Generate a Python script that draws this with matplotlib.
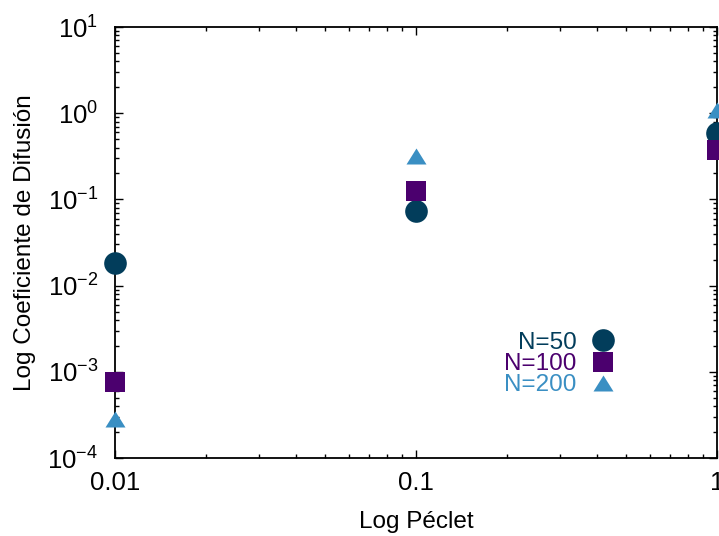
import matplotlib
matplotlib.use('Agg')
import matplotlib.pyplot as plt
from matplotlib.path import Path
from matplotlib.ticker import FixedLocator, FixedFormatter, LogLocator, NullFormatter

plt.rcParams['font.family'] = ['Liberation Sans', 'DejaVu Sans']
plt.rcParams['mathtext.fontset'] = 'custom'
plt.rcParams['mathtext.rm'] = 'Liberation Sans'
plt.rcParams['mathtext.it'] = 'Liberation Sans:italic'
plt.rcParams['mathtext.bf'] = 'Liberation Sans:bold'

# data
peclet = [0.01, 0.1, 1.0]
d_n50 = [0.0185, 0.0733, 0.59]
d_n100 = [7.6e-4, 0.124, 0.374]
d_n200 = [2.8e-4, 0.316, 1.1]
labels = ['N=50', 'N=100', 'N=200']
colors = ['#023d5b', '#4b006e', '#3a8fc3']
xtick_vals = [0.01, 0.1, 1]
xtick_labels = ['0.01', '0.1', '1']

# flatter triangle like gnuplot
tri = Path([(0, 0.8), (-1, -0.8), (1, -0.8), (0, 0.8)],
           [Path.MOVETO, Path.LINETO, Path.LINETO, Path.CLOSEPOLY])

fig = plt.figure(figsize=(7.19, 5.36), dpi=100)
ax = fig.add_axes([0.16, 0.1455, 0.8372, 0.8041])

ax.plot(peclet, d_n50, linestyle='none', marker='o', ms=16.3, mew=0,
        color=colors[0], label=labels[0], clip_on=False, zorder=3)
ax.plot(peclet, d_n100, linestyle='none', marker='s', ms=15.1, mew=0,
        color=colors[1], label=labels[1], clip_on=False, zorder=3)
ax.plot(peclet, d_n200, linestyle='none', marker=tri, ms=14.4, mew=0,
        color=colors[2], label=labels[2], clip_on=False, zorder=3)

ax.set_xscale('log')
ax.set_yscale('log')
ax.set_xlim(0.01, 1)
ax.set_ylim(1e-4, 10)

ax.xaxis.set_major_locator(FixedLocator(xtick_vals))
ax.xaxis.set_major_formatter(FixedFormatter(xtick_labels))
ax.xaxis.set_minor_locator(LogLocator(base=10, subs=range(2, 10)))
ax.xaxis.set_minor_formatter(NullFormatter())
ax.yaxis.set_major_locator(LogLocator(base=10, numticks=10))
ax.yaxis.set_minor_locator(LogLocator(base=10, subs=range(2, 10), numticks=10))
ax.yaxis.set_minor_formatter(NullFormatter())

ax.tick_params(which='both', direction='in', top=True, right=True,
               width=1.0, labelsize=18.5, colors='black')
ax.tick_params(which='major', length=6)
ax.tick_params(which='minor', length=3)
ax.tick_params(axis='y', which='major', pad=12)
ax.tick_params(axis='x', which='major', pad=9)
for s in ax.spines.values():
    s.set_linewidth(1.3)

ax.set_xlabel('Log Péclet', fontsize=17.5, labelpad=12)
ax.set_ylabel('Log Coeficiente de Difusión', fontsize=17.5, labelpad=8)

leg = ax.legend(loc='center right', bbox_to_anchor=(0.831, 0.218),
                frameon=False, markerfirst=False, fontsize=17.5,
                handlelength=1.0, handletextpad=0.6, labelspacing=-0.03,
                borderpad=0, borderaxespad=0, labelcolor=colors)

fig.savefig('out.png', dpi=100)
